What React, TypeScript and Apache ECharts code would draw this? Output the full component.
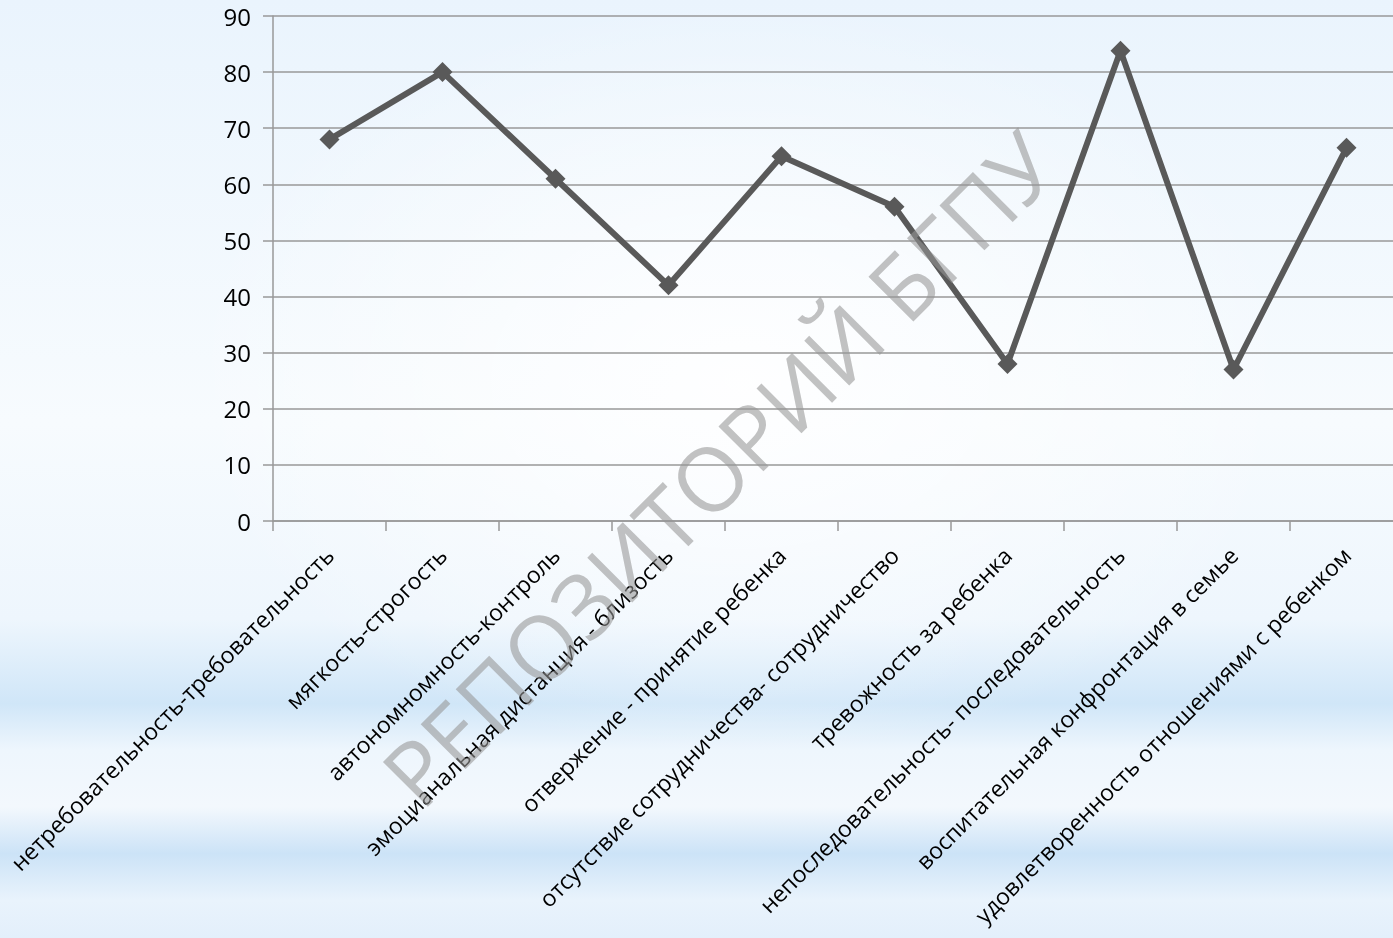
import React, { useEffect, useRef } from "react";
import * as echarts from "echarts";

const categories = [
  "нетребовательность-требовательность",
  "мягкость-строгость",
  "автономномность-контроль",
  "эмоцианальная дистанция - близость",
  "отвержение - принятие ребенка",
  "отсутствие сотрудничества- сотрудничество",
  "тревожность за ребенка",
  "непоследовательность- последовательность",
  "воспитательная конфронтация в семье",
  "удовлетворенность отношениями с ребенком",
];
const values = [68, 80, 61, 42, 65, 56, 28, 83.8, 27, 66.5];
const yMin = 0;
const yMax = 90;
const yStep = 10;
const watermark = "РЕПОЗИТОРИЙ БГПУ";

export default function App() {
  const ref = useRef<HTMLDivElement>(null);
  useEffect(() => {
    if (!ref.current) return;
    const chart = echarts.init(ref.current, null, { renderer: "svg" });
    const font = "'Open Sans', 'Noto Sans', sans-serif";
    chart.setOption({
      animation: false,
      graphic: [
        {
          type: "rect",
          z: -10,
          silent: true,
          shape: { x: 0, y: 0, width: 1420, height: 938 },
          style: {
            fill: new echarts.graphic.LinearGradient(0, 0, 0, 1, [
              { offset: 0, color: "#eaf4fd" },
              { offset: 0.45, color: "#f7fbfe" },
              { offset: 0.66, color: "#eef6fd" },
              { offset: 0.75, color: "#d0e6f8" },
              { offset: 0.8, color: "#eef6fd" },
              { offset: 0.86, color: "#f3f8fd" },
              { offset: 0.91, color: "#cce3f7" },
              { offset: 0.96, color: "#e9f3fc" },
              { offset: 1, color: "#e3effb" },
            ]),
          },
        },
        {
          type: "ellipse",
          z: -9,
          silent: true,
          shape: { cx: 740, cy: 380, rx: 560, ry: 380 },
          style: {
            fill: new echarts.graphic.RadialGradient(0.5, 0.5, 0.5, [
              { offset: 0, color: "rgba(255,255,255,0.9)" },
              { offset: 1, color: "rgba(255,255,255,0)" },
            ]),
          },
        },
        {
          type: "text",
          z: 100,
          silent: true,
          x: 718,
          y: 468,
          rotation: Math.PI / 4,
          style: {
            text: watermark,
            font: `89px ${font}`,
            fill: "rgba(150,150,150,0.58)",
            align: "center",
            verticalAlign: "middle",
          },
        },
      ],
      grid: { left: 273, top: 16, width: 1130, height: 505, containLabel: false },
      xAxis: {
        type: "category",
        data: categories,
        boundaryGap: true,
        axisLine: { lineStyle: { color: "#999999", width: 1.5 } },
        axisTick: { show: true, alignWithLabel: false, length: 10, lineStyle: { color: "#999999", width: 1.5 } },
        axisLabel: {
          rotate: 45,
          interval: 0,
          margin: 30,
          fontSize: 23,
          color: "#000000",
          fontFamily: font,
        },
        splitLine: { show: false },
      },
      yAxis: {
        type: "value",
        min: yMin,
        max: yMax,
        interval: yStep,
        axisLine: { show: true, lineStyle: { color: "#999999", width: 1.5 } },
        axisTick: { show: true, length: 10, lineStyle: { color: "#999999", width: 1.5 } },
        axisLabel: { fontSize: 24, color: "#000000", fontFamily: font, margin: 22 },
        splitLine: { show: true, lineStyle: { color: "#999999", width: 1.5 } },
      },
      series: [
        {
          type: "line",
          data: values,
          symbol: "diamond",
          symbolSize: 20,
          lineStyle: { color: "#595959", width: 6 },
          itemStyle: { color: "#595959" },
          z: 5,
        },
      ],
    });
    return () => chart.dispose();
  }, []);
  return (
    <div
      style={{
        position: "fixed",
        left: 0,
        top: 0,
        width: 1393,
        height: 938,
        overflow: "hidden",
      }}
    >
      <div ref={ref} style={{ width: 1420, height: 938 }} />
    </div>
  );
}
